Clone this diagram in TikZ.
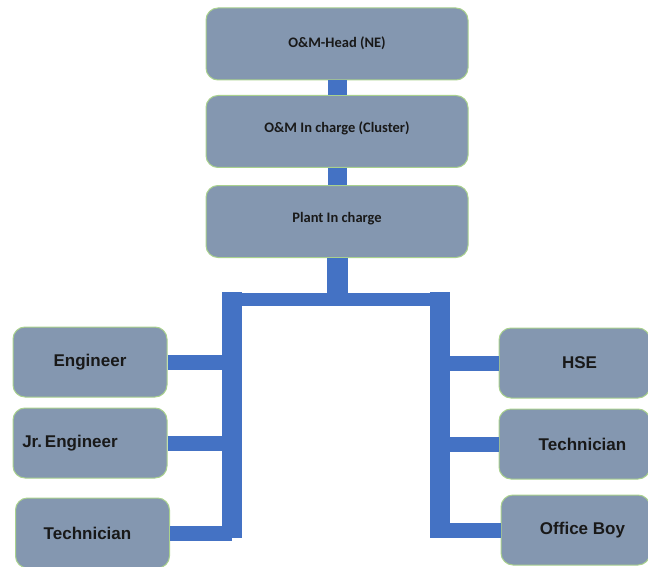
\documentclass[tikz,border=0pt]{standalone}
\usepackage{fontspec}
\newfontfamily\calfont{Carlito}
\newfontfamily\arlfont{Liberation Sans}
\definecolor{boxfill}{HTML}{8497B0}
\definecolor{boxline}{HTML}{A9D18E}
\definecolor{barblue}{HTML}{4472C4}
\tikzset{
  topbox/.style={draw=boxline, line width=1pt, fill=boxfill, rounded corners=12pt,
    minimum width=262pt, minimum height=72pt, font=\calfont\bfseries\fontsize{14.5}{16}\selectfont,
    text=black!90},
  sidebox/.style={draw=boxline, line width=1pt, fill=boxfill, rounded corners=12pt,
    minimum width=154pt, minimum height=70pt, font=\arlfont\bfseries\fontsize{17}{19}\selectfont,
    text=black!90},
  bar/.style={barblue, line width=19pt},
  branch/.style={barblue, line width=15pt}
}
\begin{document}
\begin{tikzpicture}[x=1pt,y=-1pt]
\useasboundingbox (0,0) rectangle (648,567);
% top of the chart
\node[topbox] (head) at (337,44) {\raisebox{3pt}{O\&M-Head (NE)}};
\node[topbox] (cluster) at (337,131.5) {\raisebox{8pt}{O\&M In charge (Cluster)}};
\node[topbox] (plant) at (337,221.5) {\raisebox{9pt}{Plant In charge}};
\draw[bar] (head.south) -- (cluster.north);
\draw[bar] (cluster.south) -- (plant.north);
% the two buses
\coordinate (drop) at (337,299.5);
\coordinate (ltop) at (232,292);
\coordinate (lbot) at (232,538);
\coordinate (rtop) at (440,292);
\coordinate (rbot) at (440,538);
\draw[barblue, line width=21pt] (plant.south) -- (drop);
\draw[barblue, line width=13pt] (222,299.5) -- (450,299.5);
\draw[barblue, line width=20pt] (ltop) -- (lbot);
\draw[barblue, line width=20pt] (rtop) -- (rbot);
% left side
\node[sidebox] (eng) at (90,362) {Engineer};
\node[sidebox] (jreng) at (90,443) {Jr.\,Engineer\hspace*{40pt}};
\node[sidebox] (ltech) at (92.5,533) {Technician\hspace*{10pt}};
% right side
\node[sidebox, minimum width=151pt] (hse) at (574.5,363) {\hspace*{10pt}HSE};
\node[sidebox, minimum width=151pt] (rtech) at (574.5,444) {\hspace*{16pt}Technician};
\node[sidebox, minimum width=149pt] (boy) at (575.5,530) {\hspace*{14pt}Office Boy};
\foreach \n in {eng,jreng,ltech}
  \draw[branch] (\n.east) -- (\n.east -| lbot);
\foreach \n in {hse,rtech,boy}
  \draw[branch] (\n.west) -- (\n.west -| rbot);
\end{tikzpicture}
\end{document}
